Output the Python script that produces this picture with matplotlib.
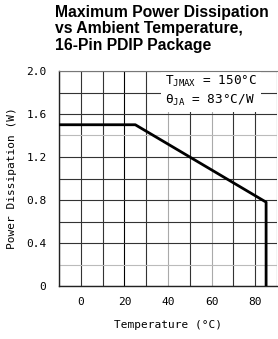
import matplotlib
matplotlib.use('Agg')
import matplotlib.pyplot as plt
import numpy as np

# derating curve, 16-pin PDIP
temp = [-10, 25, 85, 85]
power = [1.5, 1.5, 0.78, 0.0]

x_ticks = [0, 20, 40, 60, 80]
y_ticks = [0, 0.4, 0.8, 1.2, 1.6, 2.0]
y_labels = ['0', '0.4', '0.8', '1.2', '1.6', '2.0']
x_grid = np.arange(-10, 91, 10)
y_grid = np.arange(0, 2.01, 0.2)
light_x = [40, 60]
light_y = [0.2, 1.4]

mono = 'DejaVu Sans Mono'

fig = plt.figure(figsize=(2.78, 3.39), dpi=100)
ax = fig.add_axes([59/278, 53/339, 218/278, 215/339])
ax.set_xlim(-10, 90)
ax.set_ylim(0, 2.0)

for gx in x_grid:
    c = '#aaaaaa' if gx in light_x else '#333333'
    if gx == 20:
        c = '#000000'
    ax.axvline(gx, color=c, lw=0.8, zorder=1)
for gy in y_grid:
    c = '#bbbbbb' if round(gy, 1) in light_y else '#333333'
    ax.axhline(gy, color=c, lw=0.8, zorder=1)

ax.plot(temp, power, color='black', lw=2.0, zorder=3, solid_joinstyle='round')

for s in ['left', 'bottom']:
    ax.spines[s].set_color('#222222')
    ax.spines[s].set_linewidth(1.0)
ax.spines['top'].set_color('#777777')
ax.spines['right'].set_visible(False)

ax.set_xticks(x_ticks)
ax.set_yticks(y_ticks)
ax.set_yticklabels(y_labels)
ax.tick_params(length=0, labelsize=8, pad=8)
ax.tick_params(axis='y', pad=9)
for lab in ax.get_xticklabels() + ax.get_yticklabels():
    lab.set_family(mono)

ax.set_xlabel('Temperature (°C)', fontsize=8, family=mono, labelpad=9)
ax.set_ylabel('Power Dissipation (W)', fontsize=8, family=mono, labelpad=7)

ax.text(0.485, 0.985, '$\\mathregular{T_{JMAX}}$ = 150°C\n$\\mathregular{\\theta_{JA}}$ = 83°C/W',
        transform=ax.transAxes, fontsize=9.2, family=mono, va='top', ha='left', zorder=2,
        linespacing=1.3,
        bbox=dict(facecolor='white', edgecolor='none', pad=3))

fig.text(55/278, 1 - 5/339, 'Maximum Power Dissipation\nvs Ambient Temperature,\n16-Pin PDIP Package',
         fontsize=11.3, fontweight='bold', fontstretch='normal', family='Liberation Sans',
         va='top', ha='left', linespacing=1.12)

fig.savefig('out.png', dpi=100)
